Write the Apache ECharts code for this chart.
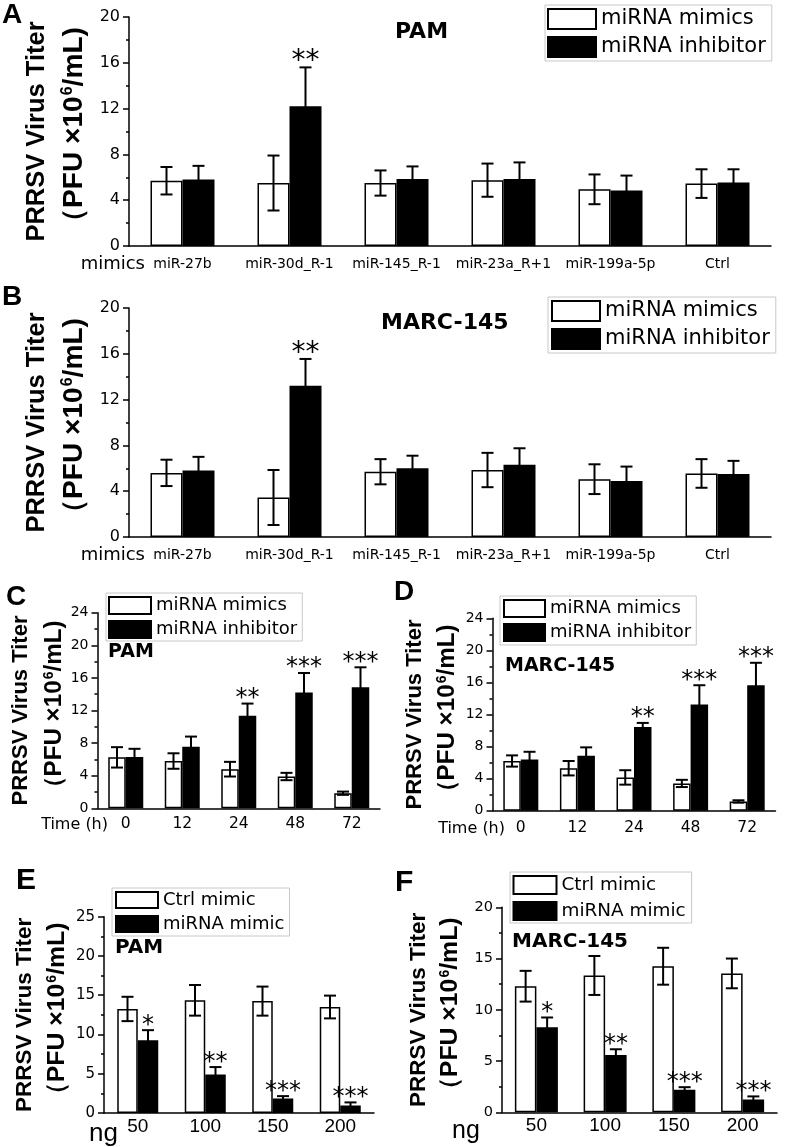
<!DOCTYPE html>
<html><head><meta charset="utf-8">
<script src="https://cdn.jsdelivr.net/npm/echarts@6/dist/echarts.min.js"></script>
<style>html,body{margin:0;padding:0;background:#fff}#c{width:787px;height:1147px}</style>
</head><body><div id="c"></div>
<script>
// ---- data ----
const catsMir = ['miR-27b','miR-30d_R-1','miR-145_R-1','miR-23a_R+1','miR-199a-5p','Ctrl'];
const catsTime = ['0','12','24','48','72'];
const catsNg = ['50','100','150','200'];

const mimicsA = [5.7, 5.5, 5.5, 5.75, 4.95, 5.45];
const mimicsA_sd = [1.2, 2.4, 1.1, 1.45, 1.3, 1.25];
const inhibA = [5.8, 12.2, 5.85, 5.85, 4.85, 5.55];
const inhibA_sd = [1.2, 3.4, 1.1, 1.45, 1.3, 1.15];
const starsA = ['', '**', '', '', '', ''];

const mimicsB = [5.6, 3.45, 5.7, 5.85, 5.05, 5.55];
const mimicsB_sd = [1.15, 2.4, 1.1, 1.5, 1.3, 1.25];
const inhibB = [5.8, 13.2, 6.0, 6.3, 4.9, 5.5];
const inhibB_sd = [1.2, 2.35, 1.1, 1.45, 1.25, 1.15];
const starsB = ['', '**', '', '', '', ''];

const mimicsC = [6.25, 5.8, 4.8, 3.9, 1.85];
const mimicsC_sd = [1.25, 0.95, 0.9, 0.45, 0.2];
const inhibC = [6.3, 7.55, 11.35, 14.2, 14.85];
const inhibC_sd = [1.0, 1.25, 1.5, 2.4, 2.45];
const starsC = ['', '', '**', '***', '***'];

const mimicsD = [6.2, 5.3, 4.15, 3.4, 1.15];
const mimicsD_sd = [0.7, 0.9, 0.9, 0.45, 0.15];
const inhibD = [6.4, 6.85, 10.45, 13.25, 15.65];
const inhibD_sd = [0.95, 1.05, 0.5, 2.4, 2.8];
const starsD = ['', '', '**', '***', '***'];

const ctrlE = [13.25, 14.35, 14.25, 13.5];
const ctrlE_sd = [1.55, 1.95, 1.85, 1.45];
const mimicE = [9.25, 4.9, 1.85, 0.95];
const mimicE_sd = [1.3, 0.95, 0.3, 0.4];
const starsE = ['*', '**', '***', '***'];

const ctrlF = [12.3, 13.35, 14.25, 13.55];
const ctrlF_sd = [1.5, 1.9, 1.8, 1.45];
const mimicF = [8.3, 5.6, 2.2, 1.25];
const mimicF_sd = [0.95, 0.55, 0.25, 0.3];
const starsF = ['*', '**', '***', '***'];

const legendMi = ['miRNA mimics', 'miRNA inhibitor'];
const legendNg = ['Ctrl mimic', 'miRNA mimic'];
const yNameLine1 = 'PRRSV Virus Titer';
const yNameLine2a = '（PFU ×10';
const yNameSup = '6';
const yNameLine2b = '/mL)';

// ---- layout ----
const DJ = 'DejaVu Sans', AR = 'Liberation Sans, Arial';
const panels = [
  {letter:'A', lpos:[2,1,28], cell:'PAM', cpos:[395,21,22],
   grid:{left:129, top:17, width:642, height:229}, cats:catsMir,
   v1:mimicsA, e1:mimicsA_sd, v2:inhibA, e2:inhibA_sd, stars:starsA, names:legendMi,
   yMax:20, yInt:4, barW:32, cap:12, starFs:28, yLabFs:16, xLabFs:14, xMargin:11,
   xName:'mimics', xNameFs:18, xNameFam:DJ, xNameGap:-16, xNamePad:9,
   yNameFs:25.5, yNameLH:37, yNameGap:32.5,
   legend:{left:545, top:5, padding:[3,6,3,2], iw:48, ih:20, gap:6, fs:21}},
  {letter:'B', lpos:[2,283,28], cell:'MARC-145', cpos:[381,312,22],
   grid:{left:129, top:308, width:642, height:229}, cats:catsMir,
   v1:mimicsB, e1:mimicsB_sd, v2:inhibB, e2:inhibB_sd, stars:starsB, names:legendMi,
   yMax:20, yInt:4, barW:32, cap:12, starFs:28, yLabFs:16, xLabFs:14, xMargin:11,
   xName:'mimics', xNameFs:18, xNameFam:DJ, xNameGap:-16, xNamePad:9,
   yNameFs:25.5, yNameLH:37, yNameGap:32.5,
   legend:{left:548, top:297, padding:[3,6,3,3], iw:48, ih:20, gap:6, fs:21}},
  {letter:'C', lpos:[6,583,28], cell:'PAM', cpos:[108,643,19],
   grid:{left:97.5, top:612.7, width:282.5, height:195.6}, cats:catsTime,
   v1:mimicsC, e1:mimicsC_sd, v2:inhibC, e2:inhibC_sd, stars:starsC, names:legendMi,
   yMax:24, yInt:4, barW:17.5, cap:12, starFs:24, yLabFs:14, xLabFs:15.5, xMargin:8,
   xName:'Time (h)', xNameFs:16, xNameFam:DJ, xNameGap:-10.5, xNamePad:9,
   yNameFs:22, yNameLH:33, yNameGap:24,
   legend:{left:106, top:593, padding:[3,5,2,2], iw:42, ih:17, gap:5, fs:18}},
  {letter:'D', lpos:[394,578,28], cell:'MARC-145', cpos:[505,657,19],
   grid:{left:492.5, top:618.3, width:283, height:192.4}, cats:catsTime,
   v1:mimicsD, e1:mimicsD_sd, v2:inhibD, e2:inhibD_sd, stars:starsD, names:legendMi,
   yMax:24, yInt:4, barW:17.5, cap:12, starFs:24, yLabFs:14, xLabFs:15.5, xMargin:9,
   xName:'Time (h)', xNameFs:16, xNameFam:DJ, xNameGap:-12.5, xNamePad:10,
   yNameFs:22, yNameLH:33, yNameGap:28.5,
   legend:{left:500, top:596, padding:[3,5,3,3], iw:41, ih:17, gap:5, fs:18}},
  {letter:'E', lpos:[16,866,30], cell:'PAM', cpos:[115,938,20],
   grid:{left:104, top:916.7, width:270, height:201}, cats:catsNg,
   v1:ctrlE, e1:ctrlE_sd, v2:mimicE, e2:mimicE_sd, stars:starsE, names:legendNg,
   yMax:25, yInt:5, barW:20.5, cap:12, starFs:24, yLabFs:15, xLabFs:19, xMargin:4, xLabFam:AR,
   xName:'ng', xNameFs:26, xNameFam:AR, xNameGap:-14, xNamePad:8,
   yNameFs:22.5, yNameLH:33, yNameGap:30,
   legend:{left:112, top:888, padding:[3,5,3,3], iw:42, ih:16, gap:6, fs:18}},
  {letter:'F', lpos:[395,868,30], cell:'MARC-145', cpos:[512,932,20],
   grid:{left:502, top:907.3, width:275, height:205}, cats:catsNg,
   v1:ctrlF, e1:ctrlF_sd, v2:mimicF, e2:mimicF_sd, stars:starsF, names:legendNg,
   yMax:20, yInt:5, barW:21.5, cap:12, starFs:24, yLabFs:14.5, xLabFs:19, xMargin:4, xLabFam:AR,
   xName:'ng', xNameFs:25, xNameFam:AR, xNameGap:-16, xNamePad:6,
   yNameFs:22.5, yNameLH:32, yNameGap:35.5,
   legend:{left:510, top:872, padding:[3,6,2,2.5], iw:43, ih:18, gap:6, fs:18.4}}
];

const option = {animation:false, backgroundColor:'#fff', grid:[], xAxis:[], yAxis:[], series:[], legend:[], title:[]};
const axisLineStyle = {color:'#000', width:1.5};

panels.forEach((p, k) => {
  option.grid.push(Object.assign({containLabel:false}, p.grid));
  option.xAxis.push({
    type:'category', gridIndex:k, data:p.cats, position:'bottom',
    axisLine:{lineStyle:axisLineStyle},
    axisTick:{alignWithLabel:true, length:6, lineStyle:{color:'#000', width:1.5}},
    axisLabel:{color:'#000', fontSize:p.xLabFs, fontFamily:p.xLabFam||DJ, margin:p.xMargin, interval:0},
    name:p.xName, nameLocation:'start', nameGap:p.xNameGap,
    nameTextStyle:{color:'#000', fontSize:p.xNameFs, fontFamily:p.xNameFam, verticalAlign:'top', align:'right', padding:[p.xNamePad,0,0,0]}
  });
  option.xAxis.push({
    type:'category', gridIndex:k, data:p.cats, position:'bottom',
    axisLine:{show:false}, axisLabel:{show:false},
    axisTick:{length:3, lineStyle:{color:'#000', width:1.5}}
  });
  const f2 = +(p.yNameFs*1.1).toFixed(1);
  option.yAxis.push({
    type:'value', gridIndex:k, min:0, max:p.yMax, interval:p.yInt,
    axisLine:{show:true, lineStyle:axisLineStyle},
    axisTick:{show:true, length:6, lineStyle:{color:'#000', width:1.5}},
    minorTick:{show:true, splitNumber:2, length:3, lineStyle:{color:'#000', width:1.5}},
    splitLine:{show:false},
    axisLabel:{color:'#000', fontSize:p.yLabFs, fontFamily:DJ, margin:9},
    name:'{t|' + yNameLine1 + '}\n{u|' + yNameLine2a + '}{s|' + yNameSup + '}{u|' + yNameLine2b + '}',
    nameLocation:'middle', nameGap:p.yNameGap,
    nameTextStyle:{color:'#000', rich:{
      t:{fontSize:p.yNameFs, fontWeight:'bold', fontFamily:AR, lineHeight:p.yNameLH, color:'#000'},
      u:{fontSize:f2, fontWeight:'bold', fontFamily:AR, lineHeight:p.yNameLH, color:'#000'},
      s:{fontSize:Math.round(p.yNameFs*0.62), fontWeight:'bold', fontFamily:AR, lineHeight:14, padding:[0,0,Math.round(p.yNameFs*0.5),1], color:'#000'}
    }}
  });
  const xi = 2*k;
  option.series.push({
    type:'bar', name:p.names[0], xAxisIndex:xi, yAxisIndex:k, data:p.v1,
    barWidth:p.barW, barGap:'0%',
    itemStyle:{color:'#fff', borderColor:'#000', borderWidth:1.5}
  });
  option.series.push({
    type:'bar', name:p.names[1], xAxisIndex:xi, yAxisIndex:k, data:p.v2,
    barWidth:p.barW, barGap:'0%',
    itemStyle:{color:'#000', borderColor:'#000', borderWidth:1.5}
  });
  const errData = [];
  p.cats.forEach((c, i) => { errData.push([i, p.v1[i], p.e1[i], 0]); errData.push([i, p.v2[i], p.e2[i], 1]); });
  const bw = p.barW, cap = p.cap;
  option.series.push({
    type:'custom', xAxisIndex:xi, yAxisIndex:k, data:errData, z:5, silent:true,
    renderItem:(params, api) => {
      const i = api.value(0), v = api.value(1), sd = api.value(2), g = api.value(3);
      const c = api.coord([i, v]);
      const x = c[0] + (g === 0 ? -bw/2 : bw/2);
      const yt = api.coord([i, v + sd])[1];
      const yb = api.coord([i, Math.max(0, v - sd)])[1];
      const st = {stroke:'#000', lineWidth:2};
      return {type:'group', children:[
        {type:'line', shape:{x1:x, y1:yt, x2:x, y2:yb}, style:st},
        {type:'line', shape:{x1:x-cap/2, y1:yt, x2:x+cap/2, y2:yt}, style:st},
        {type:'line', shape:{x1:x-cap/2, y1:yb, x2:x+cap/2, y2:yb}, style:st}
      ]};
    }
  });
  const starData = [];
  p.stars.forEach((s, i) => { if (s) starData.push([i, p.v2[i] + p.e2[i], i]); });
  const stars = p.stars, sfs = p.starFs;
  option.series.push({
    type:'custom', xAxisIndex:xi, yAxisIndex:k, data:starData, z:6, silent:true,
    renderItem:(params, api) => {
      const i = api.value(0), top = api.value(1);
      const c = api.coord([i, top]);
      return {type:'text', style:{text:stars[api.value(2)], x:c[0] + bw/2, y:c[1] + sfs*0.3,
        align:'center', verticalAlign:'bottom', fill:'#000', font:sfs + 'px "DejaVu Sans"'}};
    }
  });
  const L = p.legend;
  option.legend.push({
    data:p.names, orient:'vertical', left:L.left, top:L.top, padding:L.padding,
    itemWidth:L.iw, itemHeight:L.ih, itemGap:L.gap, icon:'rect', selectedMode:false,
    borderColor:'#c8c8c8', borderWidth:1, backgroundColor:'#fff',
    textStyle:{color:'#000', fontSize:L.fs, fontFamily:DJ}
  });
  option.title.push({text:p.letter, left:p.lpos[0], top:p.lpos[1], padding:0,
    textStyle:{fontSize:p.lpos[2], fontWeight:'bold', fontFamily:AR, color:'#000'}});
  option.title.push({text:p.cell, left:p.cpos[0], top:p.cpos[1], padding:0,
    textStyle:{fontSize:p.cpos[2], fontWeight:'bold', fontFamily:DJ, color:'#000'}});
});

const chart = echarts.init(document.getElementById('c'), null, {renderer:'canvas'});
chart.setOption(option);
</script>
</body></html>
